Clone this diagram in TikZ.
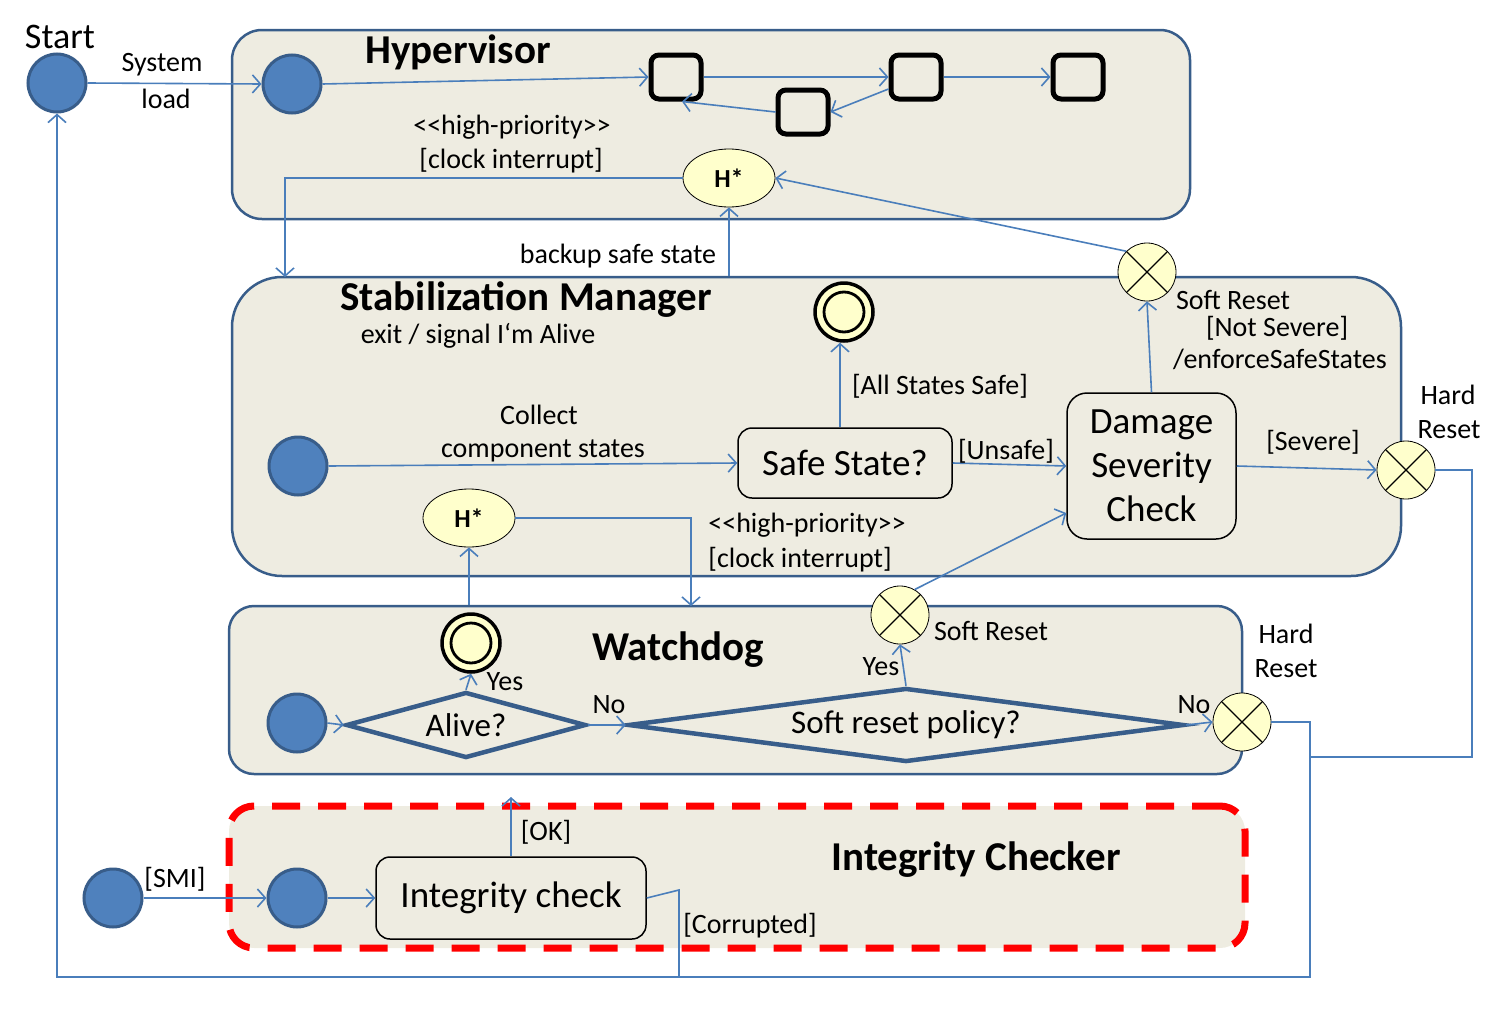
\documentclass[tikz,border=0pt]{standalone}
\usepackage{fontspec}
\setmainfont{Carlito}
\usetikzlibrary{arrows.meta,shapes.geometric,calc}
\definecolor{lblue}{HTML}{4A7EBB}
\definecolor{dblue}{HTML}{385D8A}
\definecolor{ifill}{HTML}{4F81BD}
\definecolor{beige}{HTML}{EEECE1}
\definecolor{lyellow}{HTML}{FFFFCC}
\begin{document}
\begin{tikzpicture}[x=1pt,y=-1pt,
  container/.style={rectangle, draw=dblue, line width=2.5pt, fill=beige, inner sep=0},
  init/.style={circle, fill=ifill, draw=dblue, line width=3pt, minimum size=58pt, inner sep=0},
  hist/.style={ellipse, draw=black, fill=lyellow, line width=0.8pt, minimum width=92pt, minimum height=58pt, inner sep=0, font=\bfseries\fontsize{26pt}{28pt}\selectfont},
  xnode/.style={circle, draw=black, fill=lyellow, line width=0.8pt, minimum size=58pt, inner sep=0,
     path picture={\draw[line width=1.2pt] (path picture bounding box.north west) -- (path picture bounding box.south east)
       (path picture bounding box.north east) -- (path picture bounding box.south west);}},
  finalst/.style={circle, draw=black, fill=lyellow, line width=3.5pt, minimum size=58pt, inner sep=0,
     path picture={\draw[line width=2.8pt] (path picture bounding box.center) circle (20pt);}},
  sq/.style={rectangle, rounded corners=8pt, draw=black, line width=5pt, minimum width=50pt, minimum height=44pt, inner sep=0},
  stbox/.style={rectangle, rounded corners=14pt, draw=black, line width=1.5pt, fill=beige, inner sep=0, align=center, font=\fontsize{37pt}{44pt}\selectfont},
  dia/.style={diamond, draw=dblue, line width=4.5pt, fill=beige, inner sep=0, font=\fontsize{33pt}{36pt}\selectfont},
  lab/.style={inner sep=0, font=\fontsize{28pt}{32pt}\selectfont},
  ttl/.style={inner sep=0, font=\bfseries\fontsize{41pt}{44pt}\selectfont},
  arr/.style={draw=lblue, line width=1.6pt, -{Straight Barb[length=8pt,width=18pt,line width=1.6pt]}},
  ln/.style={draw=lblue, line width=1.6pt}
]
\useasboundingbox (0,0) rectangle (1500,1028);

% containers
\node[container, rounded corners=30pt, minimum width=958pt, minimum height=189pt] (hv) at (711,124.5) {};
\node[container, rounded corners=50pt, minimum width=1169pt, minimum height=299pt] (sm) at (816.5,426.5) {};
\node[container, rounded corners=25pt, minimum width=1013pt, minimum height=168pt] (wd) at (735.5,690) {};
\node[rectangle, rounded corners=25pt, draw=red, fill=beige, line width=7pt, dash pattern=on 28pt off 18pt, minimum width=1016pt, minimum height=142pt, inner sep=0] (ic) at (737,877) {};

% titles
\node[lab, font=\fontsize{36pt}{40pt}\selectfont] (tstart) at (60,37) {Start};
\node[ttl] (thv) at (458,52) {Hypervisor};
\node[ttl] (tsm) at (526,300) {Stabilization Manager};
\node[lab] (texit) at (478,336) {exit / signal I‘m Alive};
\node[ttl] (twd) at (678,650) {Watchdog};
\node[ttl] (tic) at (976,860) {Integrity Checker};

% nodes
\node[init] (start) at (57,83) {};
\node[init] (hvinit) at (292,84) {};
\node[sq] (s1) at (676,77) {};
\node[sq] (s2) at (803,112) {};
\node[sq] (s3) at (916,77) {};
\node[sq] (s4) at (1078,77) {};
\node[hist] (hh) at (729,178) {H*};
\node[xnode] (xs1) at (1147,272) {};
\node[finalst] (fin1) at (844,312) {};
\node[init] (sminit) at (298,466) {};
\node[stbox, minimum width=214pt, minimum height=70pt] (safe) at (845,463) {Safe State?};
\node[stbox, rounded corners=20pt, minimum width=169pt, minimum height=146pt] (dmg) at (1151.5,466) {Damage\\Severity\\Check};
\node[xnode] (xh1) at (1406,470) {};
\node[hist] (hs) at (469,518) {H*};
\node[xnode] (xs2) at (900,615) {};
\node[finalst] (fin2) at (471,643) {};
\node[init] (wdinit) at (297,723) {};
\node[dia, aspect=3.6, minimum width=240pt, minimum height=66pt] (alive) at (466,725) {Alive?};
\node[dia, aspect=7.5, minimum width=556pt, minimum height=74pt] (srp) at (906,725) {Soft reset policy?};
\node[xnode] (xh2) at (1242,722) {};
\node[init] (smi) at (113,898) {};
\node[init] (icinit) at (297,898) {};
\node[stbox, minimum width=270pt, minimum height=82pt] (icc) at (511,898) {Integrity check};

% coordinates
\coordinate (smA) at (285,277);
\coordinate (wdA) at (691,606);
\coordinate (r1) at (1472,470);
\coordinate (r2) at (1472,757);
\coordinate (j1) at (1310,757);
\coordinate (q1) at (1310,722);
\coordinate (q2) at (1310,977);
\coordinate (q3) at (57,977);
\coordinate (c1) at (679,890);
\coordinate (c2) at (679,977);
\coordinate (ok) at (513,797);

% connectors
\draw[arr] (start.east) -- (hvinit.west);
\draw[arr] (hvinit.east) -- (s1.west);
\draw[arr] (s1.east) -- (s3.west);
\draw[arr] (s3.east) -- (s4.west);
\draw[arr] ($(s3.west)+(0,12)$) -- (s2.east);
\draw[arr] (s2.west) -- ($(s1.south)+(6,0)$);
\draw[arr] (hh.west) -| (smA);
\draw[arr] (hh.south |- sm.north) -- (hh.south);
\draw[arr] (xs1.135) -- (hh.east);
\draw[arr] (safe.north -| fin1.south) ++(-4,0) coordinate (sfn) -- (sfn |- fin1.south);
\draw[arr] (sminit.east) -- (safe.west);
\draw[arr] (safe.east) -- (dmg.west);
\draw[arr] (dmg.north) -- (xs1.south);
\draw[arr] (dmg.east) -- (xh1.west);
\draw[ln] (xh1.east) -- (r1) -- (r2) -- (j1);
\draw[arr] (hs.east) -| (wdA);
\draw[arr] (hs.south |- wd.north) -- (hs.south);
\draw[arr] (xs2.60) -- ($(dmg.west)+(0,47)$);
\draw[arr] (wdinit.east) -- (alive.west);
\draw[arr] (alive.north) -- (fin2.south);
\draw[arr] (alive.east) -- (srp.west);
\draw[arr] (srp.north) -- (xs2.south);
\draw[arr] (srp.east) -- (xh2.west);
\draw[arr] (xh2.east) -- (q1) -- (q2) -- (q3) -- (start.south);
\draw[arr] (smi.east) -- (icinit.west);
\draw[arr] (icinit.east) -- (icc.west);
\draw[arr] (icc.north) -- (icc.north |- ok);
\draw[ln] (icc.east) -- (c1) -- (c2);

% labels
\node[lab] (lsys) at (162,65) {System};
\node[lab] (lload) at (166,99) {load};
\node[lab] (lhp1) at (512,127) {<{}<high-priority>{}>};
\node[lab] (lci1) at (511,161) {[clock interrupt]};
\node[lab] (lbk) at (618,256) {backup safe state};
\node[lab] (lall) at (940,386) {[All States Safe]};
\node[lab] (lcol) at (539,415) {Collect};
\node[lab] (lcomp) at (543,451) {component states};
\node[lab] (lunsafe) at (1006,451) {[Unsafe]};
\node[lab] (lsr1) at (1233,300) {Soft Reset};
\node[lab] (lns) at (1277,328) {[Not Severe]};
\node[lab] (lenf) at (1280,359) {/enforceSafeStates};
\node[lab] (lsev) at (1313,442) {[Severe]};
\node[lab] (lhard1) at (1448,395) {Hard};
\node[lab] (lres1) at (1449,430) {Reset};
\node[lab] (lhp2) at (807,525) {<{}<high-priority>{}>};
\node[lab] (lci2) at (800,560) {[clock interrupt]};
\node[lab] (lsr2) at (991,631) {Soft Reset};
\node[lab] (lyes1) at (505,682) {Yes};
\node[lab] (lno1) at (609,705) {No};
\node[lab] (lyes2) at (881,667) {Yes};
\node[lab] (lno2) at (1194,705) {No};
\node[lab] (lhard2) at (1286,634) {Hard};
\node[lab] (lres2) at (1286,669) {Reset};
\node[lab] (lok) at (546,832) {[OK]};
\node[lab] (lsmi) at (175,879) {[SMI]};
\node[lab] (lcor) at (750,926) {[Corrupted]};
\end{tikzpicture}
\end{document}
